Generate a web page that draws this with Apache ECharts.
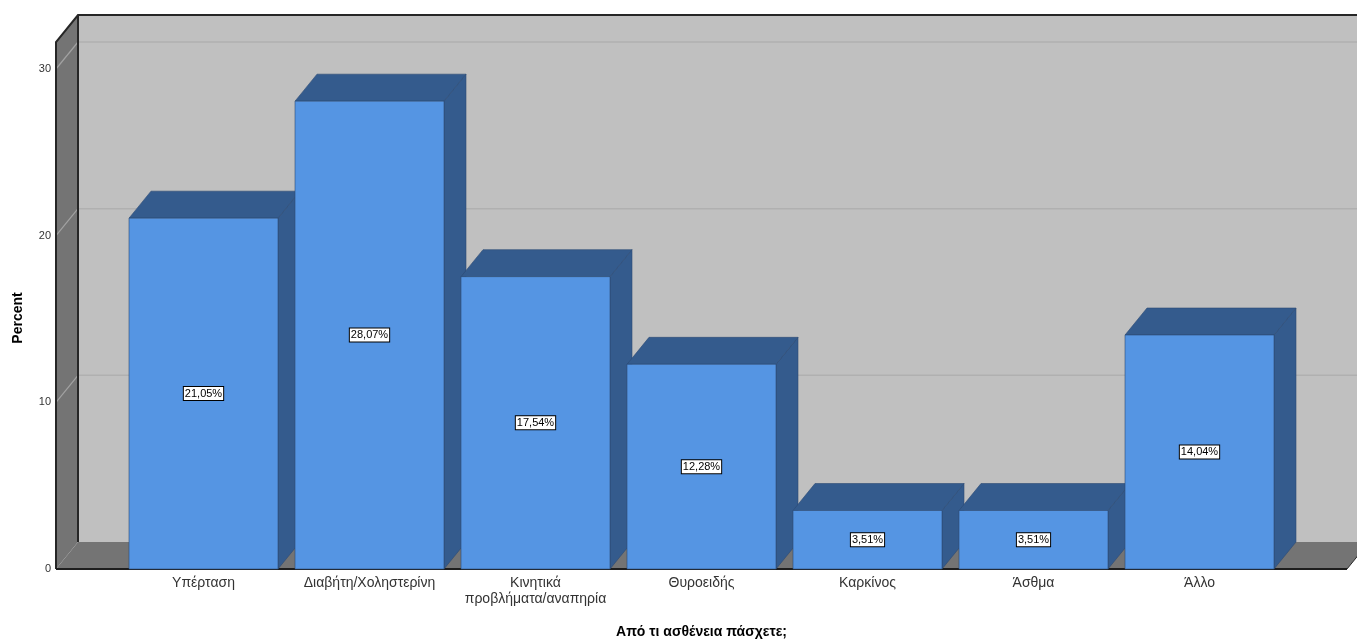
<!DOCTYPE html>
<html>
<head>
<meta charset="utf-8">
<script src="https://cdn.jsdelivr.net/npm/echarts@6/dist/echarts.min.js"></script>
<style>
  html, body { margin: 0; padding: 0; background: #ffffff; overflow: hidden; }
  #chart { width: 1357px; height: 639px; }
</style>
</head>
<body>
<div id="chart"></div>
<script>
// Disease categories and their share of respondents (%)
const categories = [
  'Υπέρταση',
  'Διαβήτη/Χοληστερίνη',
  'Κινητικά\nπροβλήματα/αναπηρία',
  'Θυροειδής',
  'Καρκίνος',
  'Άσθμα',
  'Άλλο'
];
const percents = [21.05, 28.07, 17.54, 12.28, 3.51, 3.51, 14.04];
const yTicks = [0, 10, 20, 30];

// 3D projection offsets (pixels) for depth
const DX = 22, DY = -27;
const BAR_RATIO = 149 / 166;
const SIDE_MARGIN = 64.5 / 166;

const FRONT = '#5595e3';
const DARK = '#345b8d';
const WALL = '#c0c0c0';
const SIDE_WALL = '#747474';

function fmt(v) {
  return v.toFixed(2).replace('.', ',') + '%';
}

const chart = echarts.init(document.getElementById('chart'), null, { renderer: 'canvas', width: 1357, height: 639 });

// Back wall, left wall and floor of the 3D box, with gridlines
function renderWalls(params, api) {
  const cs = params.coordSys;
  const band = api.size([1, 0])[0];
  const m = band * SIDE_MARGIN;
  const L = cs.x - m, R = cs.x + cs.width + m;
  const T = cs.y, B = cs.y + cs.height;
  const children = [
    { type: 'rect', shape: { x: L + DX, y: T + DY, width: R - L + 40, height: B - T }, style: { fill: WALL } },
    { type: 'polygon', shape: { points: [[L, T], [L + DX, T + DY], [L + DX, B + DY], [L, B]] }, style: { fill: SIDE_WALL } },
    { type: 'polygon', shape: { points: [[L, B], [L + DX, B + DY], [R + DX, B + DY], [R, B]] }, style: { fill: SIDE_WALL } }
  ];
  yTicks.forEach(function (v) {
    if (v === 0) return;
    const y = api.coord([0, v])[1];
    children.push({ type: 'line', shape: { x1: L + DX, y1: y + DY, x2: R + DX + 40, y2: y + DY }, style: { stroke: '#b0b0b0', lineWidth: 1.5 } });
    children.push({ type: 'line', shape: { x1: L, y1: y, x2: L + DX, y2: y + DY }, style: { stroke: '#a2a2a2', lineWidth: 1.2 } });
  });
  children.push({ type: 'polyline', shape: { points: [[L, B], [L, T], [L + DX, T + DY], [R + DX + 40, T + DY]] }, style: { stroke: '#262626', lineWidth: 2, fill: null } });
  children.push({ type: 'line', shape: { x1: L + DX, y1: T + DY, x2: L + DX, y2: B + DY }, style: { stroke: '#262626', lineWidth: 2 } });
  children.push({ type: 'line', shape: { x1: L, y1: B, x2: R, y2: B }, style: { stroke: '#1e1e1e', lineWidth: 2 } });
  children.push({ type: 'line', shape: { x1: R, y1: B, x2: R + DX, y2: B + DY }, style: { stroke: '#2a2a2a', lineWidth: 1 } });
  return { type: 'group', children: children };
}

// One 3D bar: side face, top face, front face and value label
function renderBar(params, api) {
  const idx = api.value(0);
  const val = api.value(1);
  const top = api.coord([idx, val]);
  const base = api.coord([idx, 0]);
  const w = api.size([1, 0])[0] * BAR_RATIO;
  const x0 = top[0] - w / 2, x1 = top[0] + w / 2;
  const yt = top[1], yb = base[1];
  const edge = { stroke: '#2b4a73', lineWidth: 0.6 };
  return {
    type: 'group',
    children: [
      { type: 'polygon', shape: { points: [[x1, yt], [x1 + DX, yt + DY], [x1 + DX, yb + DY], [x1, yb]] }, style: Object.assign({ fill: DARK }, edge) },
      { type: 'polygon', shape: { points: [[x0, yt], [x0 + DX, yt + DY], [x1 + DX, yt + DY], [x1, yt]] }, style: Object.assign({ fill: DARK }, edge) },
      { type: 'rect', shape: { x: x0, y: yt, width: w, height: yb - yt }, style: Object.assign({ fill: FRONT }, edge) },
      {
        type: 'text',
        x: top[0], y: (yt + yb) / 2,
        style: {
          text: fmt(val),
          fill: '#000000',
          font: '11px "Liberation Sans", Arial, sans-serif',
          align: 'center',
          verticalAlign: 'middle',
          backgroundColor: '#ffffff',
          borderColor: '#000000',
          borderWidth: 1,
          padding: [1, 1, 1, 1]
        }
      }
    ]
  };
}

const option = {
  backgroundColor: '#ffffff',
  animation: false,
  grid: { left: 120.5, width: 1162, top: 42, height: 527, containLabel: false, outerBoundsMode: 'none' },
  xAxis: {
    type: 'category',
    data: categories,
    axisLine: { show: false },
    axisTick: { show: false },
    axisLabel: {
      interval: 0,
      margin: 6,
      fontSize: 14,
      lineHeight: 16,
      color: '#333333',
      fontFamily: '"Liberation Sans", Arial, sans-serif'
    },
    name: 'Από τι ασθένεια πάσχετε;',
    nameLocation: 'middle',
    nameGap: 56,
    nameTextStyle: {
      fontSize: 14,
      fontWeight: 'bold',
      color: '#000000',
      fontFamily: '"Liberation Sans", Arial, sans-serif'
    },
    splitLine: { show: false }
  },
  yAxis: {
    type: 'value',
    min: 0,
    max: 31.62,
    interval: 10,
    offset: 64.5,
    axisLine: { show: false },
    axisTick: { show: false },
    splitLine: { show: false },
    axisLabel: {
      margin: 5,
      fontSize: 11,
      color: '#333333',
      fontFamily: '"Liberation Sans", Arial, sans-serif',
      showMaxLabel: false
    }
  },
  graphic: [{
    type: 'text',
    x: 18,
    y: 318,
    rotation: Math.PI / 2,
    style: {
      text: 'Percent',
      font: 'bold 14px "Liberation Sans", Arial, sans-serif',
      fill: '#000000',
      align: 'center',
      verticalAlign: 'middle'
    }
  }],
  series: [
    {
      type: 'custom',
      name: 'walls',
      z: 1,
      silent: true,
      data: [[0, 0]],
      renderItem: renderWalls
    },
    {
      type: 'custom',
      name: 'Percent',
      z: 2,
      encode: { x: 0, y: 1 },
      data: percents.map(function (v, i) { return [i, v]; }),
      renderItem: renderBar
    }
  ]
};

chart.setOption(option);
</script>
</body>
</html>
